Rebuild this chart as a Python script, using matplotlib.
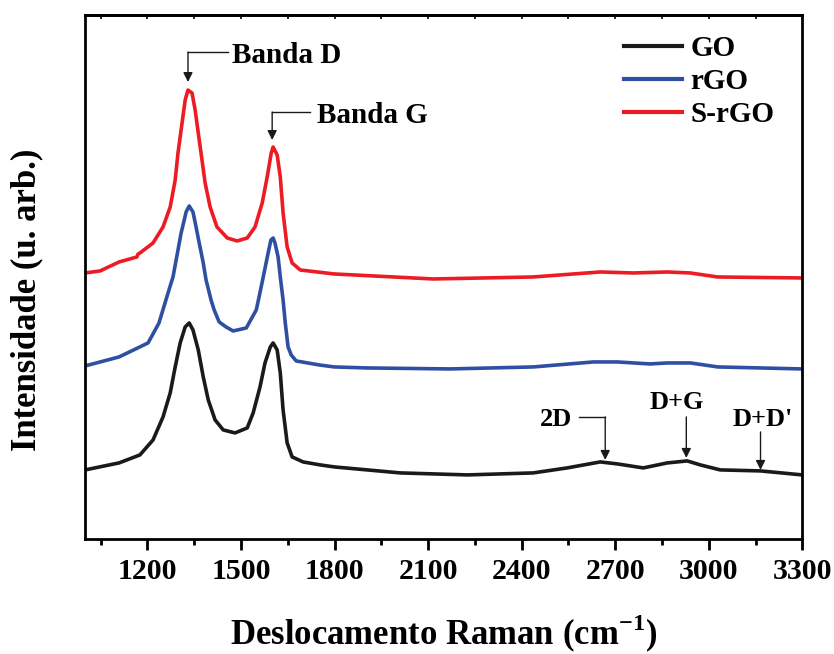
import matplotlib
matplotlib.use("Agg")
import matplotlib.pyplot as plt

# Espectros Raman (intensidade em unidades arbitrarias, com deslocamento vertical)
go_x = [1000, 1109, 1176, 1218, 1250, 1273, 1289, 1305, 1321, 1334, 1346, 1363, 1379, 1395,
        1417, 1443, 1481, 1520, 1539, 1561, 1577, 1594, 1603, 1616, 1626, 1635, 1648, 1664,
        1699, 1754, 1799, 2011, 2226, 2437, 2546, 2652, 2707, 2790, 2867, 2931, 2973, 3037,
        3166, 3300]
go_y = [69, 76, 84, 99, 122, 146, 172, 196, 212, 216, 209, 189, 162, 139,
        119, 109, 106, 111, 126, 152, 176, 192, 196, 189, 166, 129, 96, 82,
        77, 74, 72, 66, 64, 66, 71, 77, 75, 71, 76, 78, 74, 69,
        68, 64]

rgo_x = [1000, 1109, 1202, 1237, 1269, 1282, 1298, 1308, 1318, 1324, 1334, 1346, 1356, 1366,
         1379, 1388, 1404, 1414, 1430, 1452, 1475, 1517, 1549, 1558, 1574, 1587, 1596, 1603,
         1609, 1619, 1626, 1635, 1642, 1651, 1661, 1677, 1751, 1799, 1903, 2170, 2437, 2630,
         2707, 2812, 2867, 2941, 3029, 3300]
rgo_y = [173, 182, 196, 216, 249, 262, 289, 306, 319, 327, 333, 327, 312, 296,
         276, 259, 239, 229, 217, 212, 208, 211, 229, 242, 266, 286, 299, 301,
         296, 282, 262, 239, 216, 192, 184, 178, 174, 172, 171, 170, 172, 177,
         177, 175, 176, 176, 172, 170]

srgo_x = [1000, 1048, 1109, 1166, 1170, 1176, 1218, 1250, 1273, 1289, 1298, 1311, 1321, 1330,
          1343, 1353, 1363, 1375, 1385, 1401, 1423, 1456, 1488, 1520, 1545, 1568, 1584, 1597,
          1603, 1608, 1616, 1626, 1635, 1648, 1664, 1690, 1799, 2116, 2437, 2652, 2758, 2867,
          2941, 3028, 3300]
srgo_y = [266, 268, 277, 282, 285, 286, 296, 312, 332, 359, 386, 416, 439, 449,
          446, 429, 406, 379, 356, 332, 312, 301, 298, 301, 312, 336, 362, 386,
          392, 389, 384, 362, 326, 292, 276, 269, 265, 260, 262, 267, 266, 267,
          266, 262, 261]

series_labels = ["GO", "rGO", "S-rGO"]
series_colors = ["#1a1a1a", "#2f4fa2", "#ed1c24"]

xticks_major = [1200, 1500, 1800, 2100, 2400, 2700, 3000, 3300]
xticks_minor = [1050, 1350, 1650, 1950, 2250, 2550, 2850, 3150]

plt.rcParams["font.family"] = ["Liberation Serif", "DejaVu Serif"]
plt.rcParams["font.weight"] = "bold"
plt.rcParams["mathtext.fontset"] = "custom"
plt.rcParams["mathtext.rm"] = "Liberation Serif:bold"
plt.rcParams["mathtext.bf"] = "Liberation Serif:bold"

fig = plt.figure(figsize=(8.34, 6.54), dpi=100)
ax = fig.add_axes([0.102, 0.176, 0.86, 0.801])

for xs, ys, lab, col in zip([go_x, rgo_x, srgo_x], [go_y, rgo_y, srgo_y],
                            series_labels, series_colors):
    ax.plot(xs, ys, color=col, lw=2.6, label=lab, solid_joinstyle="round")

ax.set_xlim(1000, 3300)
ax.set_ylim(0, 524)
ax.set_xticks(xticks_major)
ax.set_xticks(xticks_minor, minor=True)
ax.set_yticks([])
ax.tick_params(axis="x", which="major", direction="out", length=8, width=2,
               labelsize=21.5, pad=6)
ax.tick_params(axis="x", which="minor", direction="out", length=4, width=2)
for sp in ax.spines.values():
    sp.set_linewidth(2)
for lab in ax.get_xticklabels():
    lab.set_fontweight("bold")

# pequenas marcas no eixo superior
top = ax.secondary_xaxis("top")
top.set_xticks(xticks_major + xticks_minor)
top.tick_params(direction="in", length=3, width=1.2, labeltop=False)
top.spines["top"].set_linewidth(2)

ax.set_xlabel("Deslocamento Raman (cm$^{-1}$)", fontsize=25, fontweight="bold", labelpad=20)
ax.set_ylabel("Intensidade (u. arb.)", fontsize=25, fontweight="bold")
ax.yaxis.set_label_coords(-0.058, 0.456)

leg = ax.legend(loc="upper right", frameon=False, fontsize=21, handlelength=2.0,
                handletextpad=0.3, labelspacing=0.2, borderaxespad=0.3,
                bbox_to_anchor=(0.99, 1.0))
for line in leg.get_lines():
    line.set_linewidth(3)


def mark(x, top_y, tip, x_end=None):
    # seta vertical (com traço horizontal opcional) apontando para a banda
    if x_end is not None:
        ax.plot([x, x_end], [top_y, top_y], color="#1a1a1a", lw=1)
    ax.annotate("", xy=(x, tip), xytext=(x, top_y),
                arrowprops=dict(arrowstyle="-|>", color="#1a1a1a", lw=1,
                                mutation_scale=14, shrinkA=0, shrinkB=0))


mark(1330, 487, 457, 1459)
ax.text(1472, 484, "Banda D", fontsize=21, fontweight="bold", va="center", ha="left")
mark(1600, 427, 399, 1722)
ax.text(1744, 424, "Banda G", fontsize=21, fontweight="bold", va="center", ha="left")
mark(2668, 122, 79, 2585)
ax.text(2562, 119, "2D", fontsize=19, fontweight="bold", va="center", ha="right")
mark(2928, 122, 81)
ax.text(2899, 136, "D+G", fontsize=19, fontweight="bold", va="center", ha="center")
mark(3166, 107, 69)
ax.text(3172, 119, "D+D'", fontsize=19, fontweight="bold", va="center", ha="center")

fig.savefig("out.png", dpi=100)
